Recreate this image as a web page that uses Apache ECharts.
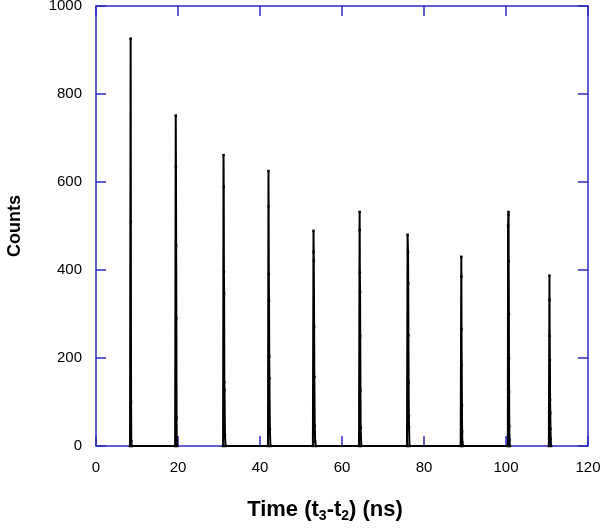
<!DOCTYPE html>
<html>
<head>
<meta charset="utf-8">
<script src="https://cdn.jsdelivr.net/npm/echarts@6/dist/echarts.min.js"></script>
<style>
html, body { margin: 0; padding: 0; background: #fff; }
#pic0 { width: 601px; height: 528px; }
</style>
</head>
<body>
<div id="pic0"></div>
<script>
// 每个峰的 [时间(ns), 计数]
var peak1 = [[8.3, 0], [8.45, 926], [8.5, 509], [8.55, 100], [8.6, 11], [8.7, 0]];
var peak2 = [[19.3, 0], [19.45, 751], [19.5, 634], [19.55, 455], [19.6, 291], [19.65, 64], [19.7, 12], [19.8, 0]];
var peak3 = [[31.0, 0], [31.1, 661], [31.15, 589], [31.2, 396], [31.25, 347], [31.3, 145], [31.35, 127], [31.45, 25], [31.6, 0]];
var peak4 = [[41.95, 0], [42.07, 625], [42.1, 545], [42.15, 391], [42.2, 330], [42.25, 203], [42.3, 154], [42.4, 39], [42.55, 0]];
var peak5 = [[52.9, 0], [53.05, 489], [53.1, 441], [53.12, 421], [53.2, 271], [53.25, 157], [53.35, 46], [53.45, 10], [53.6, 0]];
var peak6 = [[64.15, 0], [64.3, 532], [64.32, 491], [64.35, 394], [64.4, 351], [64.45, 250], [64.5, 127], [64.55, 42], [64.7, 0]];
var peak7 = [[75.85, 0], [76.0, 480], [76.1, 441], [76.15, 370], [76.2, 251], [76.25, 145], [76.3, 69], [76.35, 43], [76.45, 0]];
var peak8 = [[88.95, 0], [89.1, 430], [89.12, 385], [89.15, 266], [89.2, 184], [89.25, 92], [89.3, 33], [89.35, 8], [89.45, 0]];
var peak9 = [[100.45, 0], [100.5, 500], [100.6, 532], [100.62, 525], [100.65, 420], [100.7, 300], [100.72, 200], [100.75, 123], [100.8, 45], [100.85, 14], [100.95, 0]];
var peak10 = [[110.45, 0], [110.6, 387], [110.62, 332], [110.65, 250], [110.7, 195], [110.75, 105], [110.8, 75], [110.85, 39], [110.9, 16], [111.0, 0]];

var xTicks = [0, 20, 40, 60, 80, 100, 120];
var yTicks = [0, 200, 400, 600, 800, 1000];

var axisBlue = '#2b2bc4';

// 连成一条线, 2-3 与 9-10 之间断开
var lineData = [].concat(peak1, peak2, [null], peak3, peak4, peak5, peak6, peak7, peak8, peak9, [null], peak10);

var myChart = echarts.init(document.getElementById('pic0'));

var frameAxis = function(pos, isX, show) {
    return {
        type: 'value',
        position: pos,
        min: isX ? xTicks[0] : yTicks[0],
        max: isX ? xTicks[xTicks.length - 1] : yTicks[yTicks.length - 1],
        interval: isX ? 20 : 200,
        axisLine: { show: true, onZero: false, lineStyle: { color: axisBlue, width: 1.5 } },
        axisTick: { show: true, inside: true, length: 10, lineStyle: { color: axisBlue, width: 1.5 } },
        axisLabel: {
            show: show,
            color: '#000',
            fontSize: 15,
            fontFamily: 'Liberation Sans',
            margin: 14,
            formatter: function(v) { return String(v); }
        },
        splitLine: { show: false }
    };
};

var xMain = frameAxis('bottom', true, true);
xMain.name = '{b|Time (t}{s|3}{b|-t}{s|2}{b|) (ns)}';
xMain.nameLocation = 'middle';
xMain.nameGap = 51;
xMain.nameTextStyle = {
    padding: [0, 34, 0, 0],
    rich: {
        b: { fontSize: 22, fontWeight: 'bold', fontFamily: 'Liberation Sans', color: '#000', lineHeight: 26 },
        s: { fontSize: 14, fontWeight: 'bold', fontFamily: 'Liberation Sans', color: '#000', lineHeight: 26, padding: [12, 0, 0, 0] }
    }
};

var yMain = frameAxis('left', false, true);
yMain.name = 'Counts';
yMain.nameLocation = 'middle';
yMain.nameGap = 72;
yMain.nameTextStyle = { fontSize: 18, fontWeight: 'bold', fontFamily: 'Liberation Sans', color: '#000' };

option = {
    backgroundColor: '#fff',
    animation: false,
    grid: { left: 96, right: 13, top: 6, bottom: 82, outerBoundsMode: 'none' },
    xAxis: [xMain, frameAxis('top', true, false)],
    yAxis: [yMain, frameAxis('right', false, false)],
    series: [
        {
            type: 'line',
            xAxisIndex: 0,
            yAxisIndex: 0,
            data: lineData,
            connectNulls: false,
            symbol: 'rect',
            symbolSize: 2.5,
            showSymbol: true,
            itemStyle: { color: '#000' },
            lineStyle: { color: '#000', width: 2 },
            z: 5
        }
    ]
};
myChart.setOption(option);
</script>
</body>
</html>
